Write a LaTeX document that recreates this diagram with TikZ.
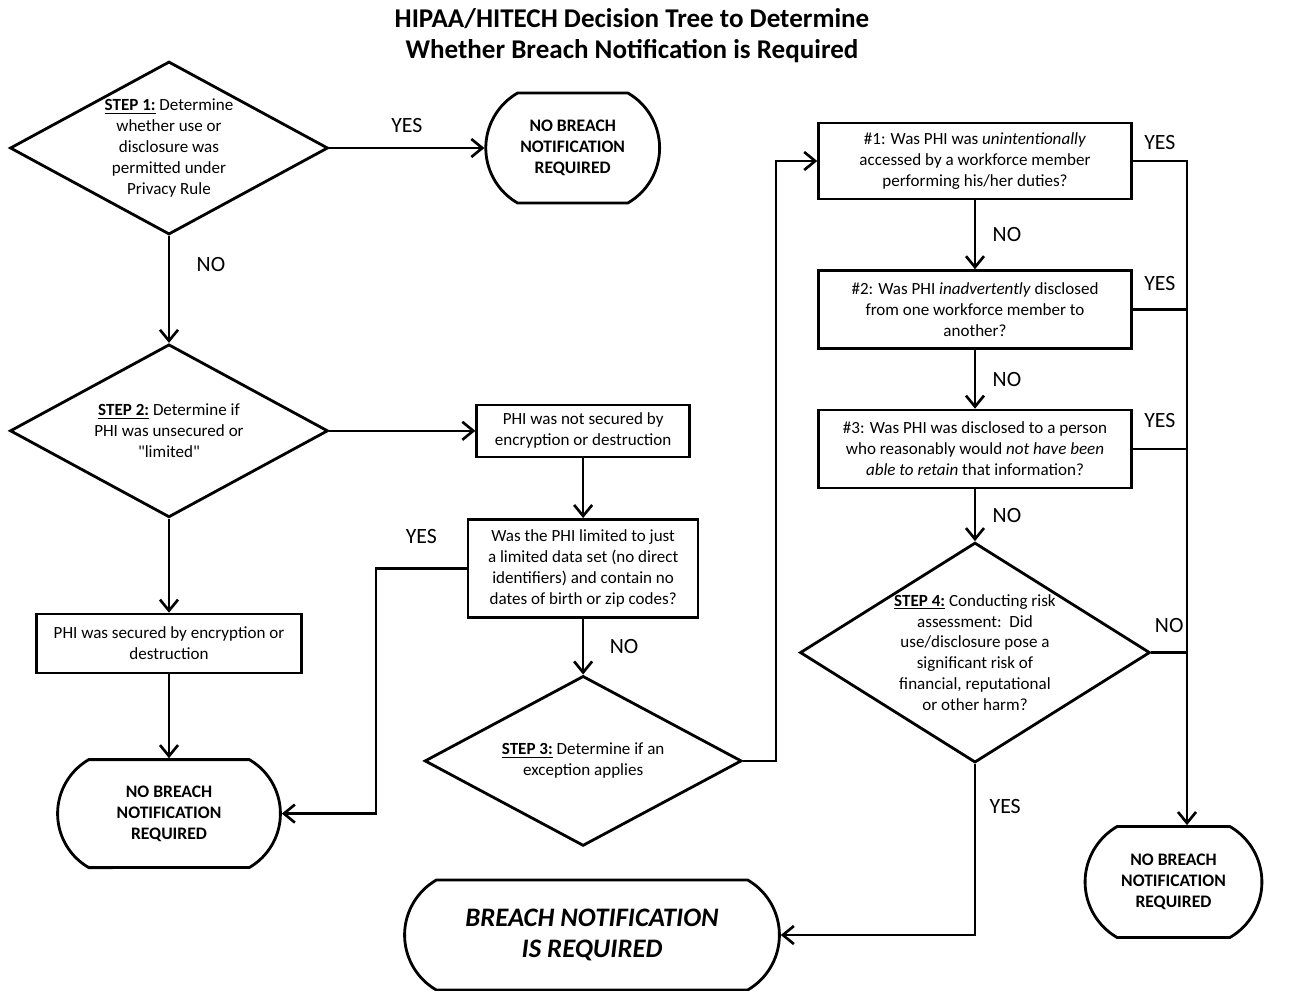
\documentclass[tikz,border=0pt]{standalone}
\usepackage{fontspec}
\setmainfont{Carlito}[Ligatures=TeXOff]
\usepackage{tikz}
\usetikzlibrary{shapes.misc, shapes.geometric, positioning}
\usetikzlibrary{arrows.meta}
\tikzset{>={Straight Barb[length=2.2mm,width=3.6mm]}}

\begin{document}
\begin{tikzpicture}[line width=1.5pt, stepdiamond/.style={diamond, draw=black, line width=1.6pt, inner sep=0pt, aspect=1.84, align=center, font=\fontsize{9.7}{11.9}\selectfont}, infobox/.style={rectangle, draw=black, line width=1.4pt, inner sep=2pt, align=center, font=\fontsize{9.7}{11.9}\selectfont}, endnode/.style={rounded rectangle, rounded rectangle arc length=120, draw=black, line width=1.6pt, align=center, font=\fontsize{10}{11.9}\selectfont\bfseries}, answer/.style={draw=none, fill=none, font=\fontsize{12.4}{14}\selectfont}]
    \useasboundingbox (0,0) rectangle (25.82,-19.82);

    %Nodes
    \node[draw=none, align=center, font=\fontsize{15.4}{17.6}\selectfont\bfseries](title) at (12.64,-0.72){HIPAA/HITECH Decision Tree to Determine\\Whether Breach Notification is Required};
    \node[stepdiamond, minimum width=6.36cm, minimum height=3.46cm](step1) at (3.38,-2.96){\underline{\textbf{STEP 1:}} Determine\\whether use or\\disclosure was\\permitted under\\Privacy Rule};
    \node[endnode, minimum width=3.71cm, minimum height=2.2cm](nobreach1)[right=3.1cm of step1]{NO BREACH\\NOTIFICATION\\REQUIRED};
    \node[stepdiamond, minimum width=6.36cm, minimum height=3.46cm](step2)[below=2.14cm of step1]{\underline{\textbf{STEP 2:}} Determine if\\PHI was unsecured or\\"limited"};
    \node[infobox, minimum width=4.26cm, minimum height=1.04cm](notsecured)[right=2.92cm of step2]{PHI was not secured by\\encryption or destruction};
    \node[infobox, minimum width=5.3cm, minimum height=1.18cm](secured)[below=1.88cm of step2]{PHI was secured by encryption or\\destruction};
    \node[endnode, minimum width=4.69cm, minimum height=2.16cm](nobreach2)[below=1.68cm of secured]{NO BREACH\\NOTIFICATION\\REQUIRED};
    \node[infobox, minimum width=4.6cm, minimum height=1.96cm](limited)[below=1.2cm of notsecured]{Was the PHI limited to just\\a limited data set (no direct\\identifiers) and contain no\\dates of birth or zip codes?};
    \node[stepdiamond, aspect=1.86, minimum width=6.34cm, minimum height=3.4cm](step3)[below=1.12cm of limited]{\underline{\textbf{STEP 3:}} Determine if an\\exception applies};
    \node[infobox, minimum width=6.26cm, minimum height=1.52cm](q1) at (19.5,-3.22){\#1: Was PHI was \textit{unintentionally}\\accessed by a workforce member\\performing his/her duties?};
    \node[infobox, minimum width=6.26cm, minimum height=1.56cm](q2)[below=1.38cm of q1]{\#2: Was PHI \textit{inadvertently} disclosed\\from one workforce member to\\another?};
    \node[infobox, minimum width=6.26cm, minimum height=1.56cm](q3)[below=1.18cm of q2]{\#3: Was PHI was disclosed to a person\\who reasonably would \textit{not have been}\\\textit{able to retain} that information?};
    \node[stepdiamond, aspect=1.59, minimum width=7cm, minimum height=4.4cm](step4)[below=1.04cm of q3]{\underline{\textbf{STEP 4:}} Conducting risk\\assessment:\ \ Did\\use/disclosure pose a\\significant risk of\\financial, reputational\\or other harm?};
    \node[endnode, minimum width=3.77cm, minimum height=2.22cm](nobreach3) at (23.47,-17.64){NO BREACH\\NOTIFICATION\\REQUIRED};
    \node[endnode, minimum width=7.73cm, minimum height=2.2cm, font=\fontsize{15.2}{17.6}\selectfont\bfseries\itshape](breach) at (11.84,-18.7){BREACH NOTIFICATION\\IS REQUIRED};
    \coordinate (trunk) at (23.74,-3.22);

    %Lines
    \draw[->] (step1.east) -- node[answer, above=0.17cm]{YES} (nobreach1.west);
    \draw[->] (step1.south) -- node[answer, pos=0.27, right=0.41cm]{NO} (step2.north);
    \draw[->] (step2.east) -- (notsecured.west);
    \draw[->] (step2.south) -- (secured.north);
    \draw[->] (secured.south) -- (nobreach2.north);
    \draw[->] (notsecured.south) -- (limited.north);
    \draw[->] (limited.west) -- node[answer, above=0.35cm]{YES} ++(-1.82,0) |- (nobreach2.east);
    \draw[->] (limited.south) -- node[answer, right=0.39cm]{NO} (step3.north);
    \draw[->] (step3.east) -- ++(0.66,0) |- (q1.west);
    \draw[->] (q1.south) -- node[answer, right=0.21cm]{NO} (q2.north);
    \draw[->] (q2.south) -- node[answer, right=0.21cm]{NO} (q3.north);
    \draw[->] (q3.south) -- node[answer, right=0.21cm]{NO} (step4.north);
    \draw[->] (q1.east) -| node[answer, pos=0.25, above=0.09cm]{YES} (trunk |- nobreach3.north);
    \draw (q2.east) -- node[answer, above=0.23cm]{YES} (q2.east -| trunk);
    \draw (q3.east) -- node[answer, above=0.29cm]{YES} (q3.east -| trunk);
    \draw (step4.east) -- node[answer, above=0.25cm]{NO} (step4.east -| trunk);
    \draw[->] (step4.south) |- node[answer, pos=0.124, right=0.15cm]{YES} (breach.east);

\end{tikzpicture}
\end{document}
